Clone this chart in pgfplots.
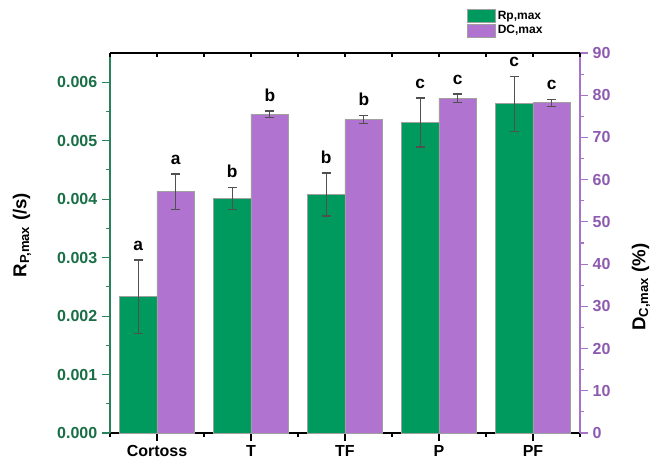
\documentclass[border=0pt]{standalone}
\usepackage{fontspec}
\setmainfont{Liberation Sans}
\usepackage{pgfplots}
\pgfplotsset{compat=1.18}
\usepackage{pgfplotstable}

\definecolor{barG}{RGB}{0,154,94}
\definecolor{barP}{RGB}{176,116,208}
\definecolor{tickG}{RGB}{25,110,70}
\definecolor{lineG}{RGB}{40,130,90}
\definecolor{tickP}{RGB}{140,90,175}
\definecolor{lineP}{RGB}{165,115,200}
\definecolor{errC}{RGB}{80,80,80}
\definecolor{edgeC}{RGB}{160,160,160}

\pgfplotstableread{
x y e lab
0 0.00233 0.00063 a
1 0.00401 0.00019 b
2 0.00408 0.00037 b
3 0.00531 0.00042 c
4 0.00563 0.00047 c
}\rpdata

\pgfplotstableread{
x y e lab
0 57.15 4.2 a
1 75.5 0.8 b
2 74.3 0.95 b
3 79.3 0.95 c
4 78.2 0.8 c
}\dcdata

\pgfplotsset{
 base/.style={width=352.5pt, height=285pt, scale only axis, xmin=-0.5, xmax=4.5,
   axis line style={-}, clip=false,
   /pgf/number format/assume math mode=true,
   tick label style={font=\bfseries\fontsize{12}{12}\selectfont}},
 errs/.style={error bars/y dir=both, error bars/y explicit,
   error bars/error bar style={line width=1pt, color=errC},
   error bars/error mark options={rotate=90, mark size=3.4pt, line width=1pt, color=errC}},
 letters/.style={draw=none, fill=none, bar width=0.4, bar shift=0pt, nodes near coords, point meta=explicit symbolic,
   every node near coord/.append style={font=\bfseries\fontsize{13}{13}\selectfont, text=black, anchor=south, inner sep=0pt, yshift=7pt}},
 sqleg/.style={legend image code/.code={\draw[##1, line width=0.6pt] (0pt,-4.9pt) rectangle (21pt,4.9pt);}},
}

\begin{document}
\begin{tikzpicture}
\begin{axis}[base, ymin=0, ymax=0.0065,
 axis y line*=left, axis x line*=bottom,
 ytick={0,0.001,0.002,0.003,0.004,0.005,0.006},
 minor y tick num=1,
 scaled y ticks=false,
 yticklabel style={/pgf/number format/fixed, /pgf/number format/fixed zerofill, /pgf/number format/precision=3, text=tickG},
 y axis line style={draw=lineG, line width=0.8pt},
 ytick style={draw=lineG, line width=0.8pt},
 tick align=outside,
 major tick length=6pt, minor tick length=3pt,
 xtick={0,1,2,3,4}, xticklabels={Cortoss,T,TF,P,PF},
 minor xtick={-0.5,0.5,1.5,2.5,3.5,4.5},
 x axis line style={draw=black, line width=0.8pt},
 xtick style={draw=black, line width=0.8pt},
 ylabel={R\textsubscript{P,max} (/s)},
 ylabel style={at={(rel axis cs:-0.1872,0.521)}, anchor=center, font=\bfseries\fontsize{14}{14}\selectfont},
]
\coordinate (SW) at (rel axis cs:0,0);
\addplot[ybar, bar width=0.4, bar shift=0pt, fill=barG, draw=edgeC, line width=0.6pt, errs] table[x expr=\thisrow{x}-0.2, y=y, y error=e] {\rpdata};
\addplot[ybar, letters] table[x expr=\thisrow{x}-0.2, y expr=\thisrow{y}+\thisrow{e}, meta=lab] {\rpdata};
\end{axis}

\begin{axis}[base, ymin=0, ymax=90,
 axis y line*=right, hide x axis,
 ytick={0,10,20,30,40,50,60,70,80,90},
 minor y tick num=1,
 tick align=outside,
 major tick length=6pt, minor tick length=3pt,
 yticklabel style={text=tickP},
 y axis line style={draw=lineP, line width=0.8pt},
 ytick style={draw=lineP, line width=0.8pt},
 ylabel={D\textsubscript{C,max} (\%)},
 ylabel style={at={(rel axis cs:1.1298,0.384)}, anchor=center, font=\bfseries\fontsize{14}{14}\selectfont},
 legend style={at={(rel axis cs:0.7596,1.1155)}, anchor=north west, draw=none, fill=none, inner sep=0pt, outer sep=0pt,
   font=\bfseries\fontsize{9}{10}\selectfont, row sep=0pt, nodes={inner sep=1.5pt}},
 legend cell align=left,
]
\addlegendimage{sqleg, fill=barG, draw=edgeC}
\addlegendentry{Rp,max}
\addplot[ybar, bar width=0.4, bar shift=0pt, fill=barP, draw=edgeC, line width=0.6pt, errs, sqleg] table[x expr=\thisrow{x}+0.2, y=y, y error=e] {\dcdata};
\addlegendentry{DC,max}
\addplot[ybar, letters, forget plot] table[x expr=\thisrow{x}+0.2, y expr=\thisrow{y}+\thisrow{e}, meta=lab] {\dcdata};
\end{axis}

\begin{axis}[base, ymin=0, ymax=1,
 axis x line*=top, hide y axis,
 xtick={0,1,2,3,4}, xticklabels={},
 minor xtick={-0.5,0.5,1.5,2.5,3.5,4.5},
 tick align=inside,
 major tick length=3pt, minor tick length=3pt,
 x axis line style={draw=black, line width=0.8pt},
 xtick style={draw=black, line width=0.8pt},
]
\addplot[draw=none] coordinates {(0,0)};
\end{axis}

\pgfresetboundingbox
\path (SW) ++(-82.5pt,-19.5pt) rectangle ++(496.5pt,344.25pt);
\end{tikzpicture}
\end{document}
